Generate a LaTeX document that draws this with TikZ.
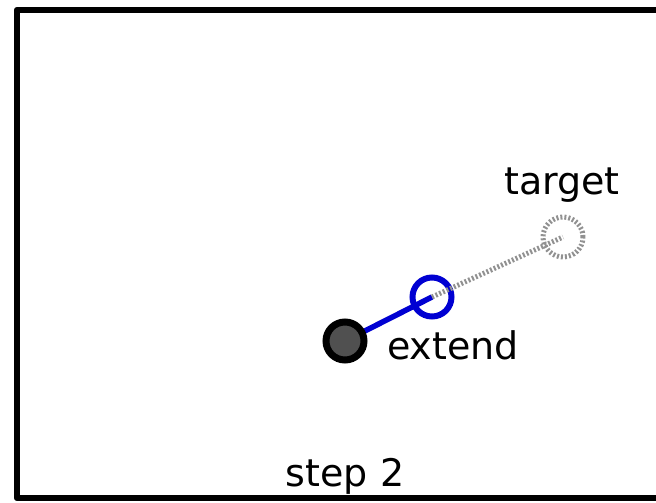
\documentclass[tikz,border=0pt]{standalone}
\usepackage{fontspec}
\setmainfont{DejaVu Sans}
\definecolor{linkblue}{RGB}{0,0,210}
\definecolor{jointgray}{RGB}{80,80,80}
\definecolor{ghostgray}{RGB}{145,145,145}
\begin{document}
\begin{tikzpicture}[x=1pt,y=-1pt,
  label/.style={font=\fontsize{38}{45}\selectfont, inner sep=0pt},
  base/.style={circle, draw=black, fill=jointgray, line width=7pt, minimum size=38pt, inner sep=0pt},
  tip/.style={circle, draw=linkblue, fill=none, line width=6pt, minimum size=39pt, inner sep=0pt},
  goal/.style={circle, draw=ghostgray, line width=5pt, dash pattern=on 2pt off 2pt, minimum size=40pt, inner sep=0pt},
  link/.style={draw=linkblue, line width=5.5pt},
  reach/.style={draw=ghostgray, line width=5pt, dash pattern=on 2pt off 2pt}]
  \useasboundingbox (0,0) rectangle (656,503);
  \clip (0,0) rectangle (656,503);
  \fill[white] (0,0) rectangle (656,503);
  % frame, open past the right edge
  \draw[line width=6.5pt, line join=round] (680,10) -- (17,10) -- (17,498) -- (680,498);

  % joints
  \coordinate (pb) at (345,341);
  \coordinate (pt) at (432,297);
  \coordinate (pg) at (563,237);
  \draw[link] (pb) -- (pt);
  \node[tip] (tipc) at (pt) {};
  \draw[reach] (pt) -- (pg);
  \node[goal] (goalc) at (pg) {};
  \node[base] (basec) at (pb) {};

  % labels
  \node[label, anchor=base west] (extend) at (387,359) {extend};
  \node[label, anchor=base] (target) at (562,194) {target};
  \node[label, anchor=base] (stepno) at (345,486) {step 2};
\end{tikzpicture}
\end{document}
